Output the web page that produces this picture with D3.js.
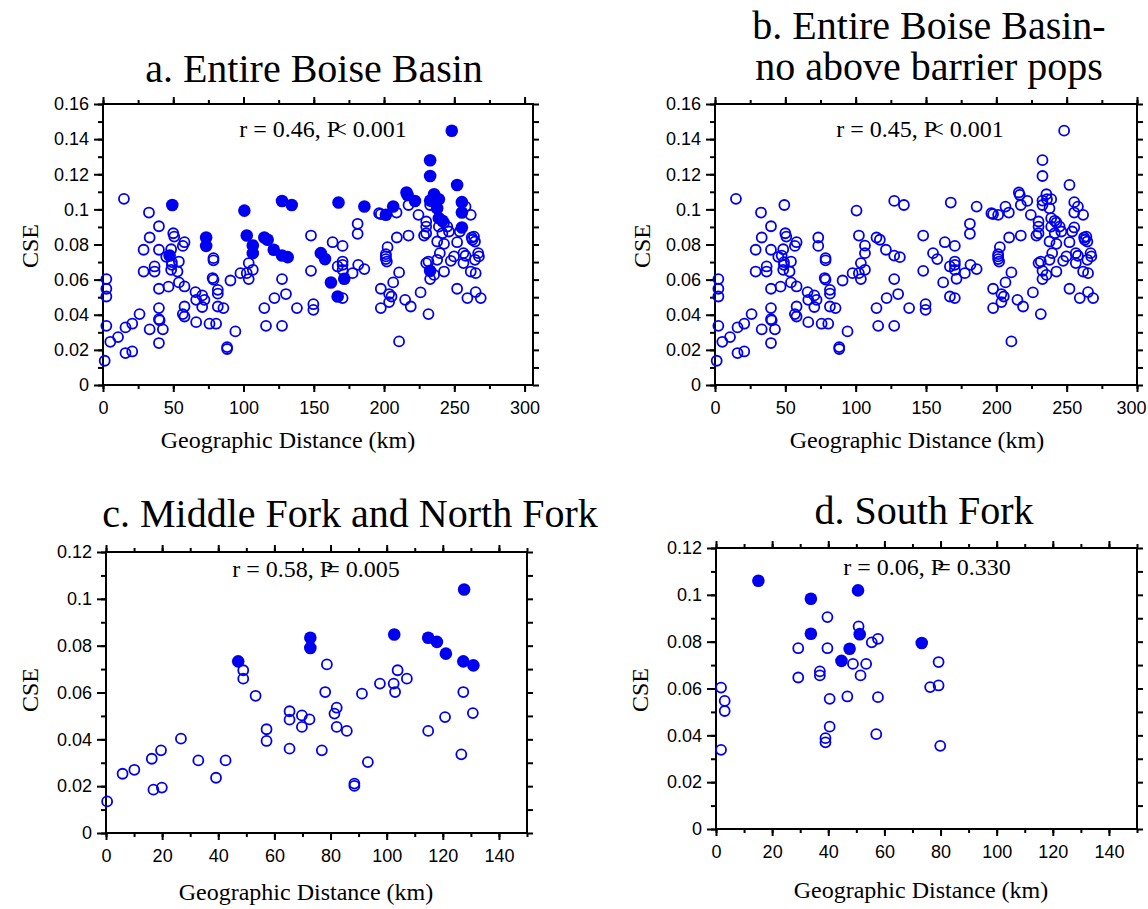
<!DOCTYPE html>
<html>
<head>
<meta charset="utf-8">
<script src="https://cdn.jsdelivr.net/npm/d3@7"></script>
<style>
  body { margin: 0; background: #fff; }
  svg text { fill: #000; }
</style>
</head>
<body>
<div id="container"></div>
<script>
/* CONSTANTS AND GLOBALS */
const width = 1148;
const height = 909;
const blue = "#0000f0";

/* DATA */
// panels a and b share the same pairwise points; filledA marks the solid dots in panel a
const distAB = [1.2, 2.4, 2.4, 2.4, 2.4, 5.2, 10.7, 14.9, 16, 16, 20.8, 20.8, 26, 28.9, 28.9, 32.7, 33.2, 33.2, 36.7, 36.7,
  39.8, 39.8, 39.8, 39.8, 39.8, 40.3, 39.8, 42.6, 45, 46.6, 47.4, 48.5, 48.5, 49.3, 50, 50.7, 49, 49, 53, 54,
  54, 56.8, 58, 58, 56.8, 58, 58, 65.8, 66.3, 66.3, 70.6, 70.6, 72.2, 73.4, 73.4, 75.8, 78.6, 78.6, 78, 78.6,
  80.5, 81.7, 81.7, 81.7, 85.7, 88.3, 88.3, 90.7, 94.2, 97.8, 100.6, 102.3, 102.3, 103.7, 103.7, 106.6, 106.6, 106.6, 114.8, 114.8,
  116, 117.2, 121.5, 122, 127.4, 127.4, 127.4, 127.4, 130.2, 131.4, 134.3, 138, 148, 148, 149.7, 149.7, 155, 158, 162.2, 163.4,
  167.6, 167, 167, 170.5, 170.5, 170.5, 170.5, 170.5, 171.7, 177.6, 181.2, 181.2, 181.6, 186, 186, 196.5, 197.7, 197.7, 197.7, 201.3,
  201.3, 201.3, 201.3, 202, 202.5, 203.6, 203.6, 205.3, 206.5, 206.5, 208.9, 209.1, 210.7, 210.7, 215, 216, 216.7, 217.4, 217.4, 219,
  222, 224.5, 226, 228.5, 230, 230, 230, 230, 231.6, 231.6, 232.8, 232.8, 232.8, 232.8, 232.8, 232.8, 235.6, 235.6, 236, 237.8,
  237.8, 237.8, 239, 239, 239, 239.7, 241.5, 241.5, 242.7, 242.7, 242.7, 245, 246.2, 247.5, 248.2, 249.8, 252, 252, 252, 253.9,
  255.4, 255.4, 255.4, 256.5, 256.5, 258, 258, 259.3, 261.7, 262.4, 262.9, 261.7, 264, 264.7, 264.7, 265.2, 265.2, 267, 267.5, 268.8];
const cseAB = [0.0138, 0.0603, 0.0548, 0.0504, 0.0337, 0.0246, 0.0273, 0.106, 0.0328, 0.0182, 0.0191, 0.0349, 0.0404, 0.077, 0.0646, 0.0982, 0.084, 0.0317, 0.0675, 0.0646,
  0.0904, 0.077, 0.0548, 0.0438, 0.0375, 0.0368, 0.0239, 0.0317, 0.073, 0.056, 0.0737, 0.0773, 0.0656, 0.1025, 0.0864, 0.0845, 0.070, 0.0684, 0.0646, 0.0703,
  0.0584, 0.0792, 0.0813, 0.0561, 0.0404, 0.039, 0.0447, 0.0529, 0.0485, 0.0358, 0.051, 0.0444, 0.0485, 0.084, 0.0792, 0.0349, 0.0722, 0.071, 0.0609, 0.06,
  0.0349, 0.0542, 0.052, 0.0447, 0.0438, 0.0216, 0.0205, 0.0595, 0.0305, 0.0637, 0.0993, 0.0851, 0.0637, 0.0694, 0.0603, 0.0794, 0.0751, 0.0656, 0.084, 0.0438,
  0.0337, 0.0827, 0.077, 0.0495, 0.1048, 0.0737, 0.0603, 0.0337, 0.0518, 0.0728, 0.1025, 0.0438, 0.0851, 0.065, 0.046, 0.0428, 0.0751, 0.0717, 0.0584, 0.0813,
  0.1039, 0.0675, 0.0504, 0.0792, 0.0703, 0.0684, 0.0656, 0.0495, 0.0605, 0.0637, 0.0918, 0.0861, 0.0684, 0.1016, 0.066, 0.0978, 0.0973, 0.0548, 0.0438, 0.0969,
  0.0745, 0.0732, 0.0717, 0.0703, 0.0785, 0.0518, 0.0472, 0.0504, 0.0584, 0.1016, 0.0982, 0.084, 0.0641, 0.0248, 0.0485, 0.1096, 0.1082, 0.1025, 0.0851, 0.0447,
  0.1048, 0.0969, 0.0527, 0.0851, 0.0931, 0.0902, 0.0864, 0.0694, 0.0404, 0.0703, 0.128, 0.119, 0.105, 0.1025, 0.065, 0.0603, 0.1086, 0.0627, 0.1058, 0.1006,
  0.0817, 0.0713, 0.1058, 0.095, 0.0902, 0.0751, 0.0935, 0.0864, 0.0925, 0.0804, 0.0646, 0.0902, 0.0874, 0.0707, 0.1448, 0.0732, 0.1139, 0.0813, 0.0548, 0.0874,
  0.1041, 0.0982, 0.0897, 0.0751, 0.0694, 0.1016, 0.0736, 0.0495, 0.0969, 0.084, 0.0827, 0.0646, 0.0845, 0.0817, 0.0713, 0.0637, 0.0529, 0.0751, 0.0732, 0.0495];
const filledA = [0, 0, 0, 0, 0, 0, 0, 0, 0, 0, 0, 0, 0, 0, 0, 0, 0, 0, 0, 0,
  0, 0, 0, 0, 0, 0, 0, 0, 0, 0, 1, 0, 0, 1, 0, 0, 0, 0, 0, 0,
  0, 0, 0, 0, 0, 0, 0, 0, 0, 0, 0, 0, 0, 1, 1, 0, 0, 0, 0, 0,
  0, 0, 0, 0, 0, 0, 0, 0, 0, 0, 1, 1, 0, 0, 0, 1, 1, 0, 1, 0,
  0, 1, 1, 0, 1, 1, 0, 0, 0, 1, 1, 0, 0, 0, 0, 0, 1, 1, 1, 0,
  1, 0, 1, 0, 0, 0, 0, 0, 1, 0, 0, 0, 0, 1, 0, 0, 0, 0, 0, 1,
  0, 0, 0, 0, 0, 0, 0, 0, 0, 1, 0, 0, 0, 0, 0, 1, 1, 0, 0, 0,
  1, 0, 0, 0, 0, 0, 0, 0, 0, 0, 1, 1, 1, 0, 1, 0, 1, 0, 0, 1,
  0, 0, 1, 1, 0, 0, 1, 0, 0, 0, 0, 0, 0, 0, 1, 0, 1, 0, 0, 0,
  1, 1, 1, 0, 0, 0, 0, 0, 0, 0, 0, 0, 0, 0, 0, 0, 0, 0, 0, 0];
const filledB = filledA.map(() => 0);

// panel c - Middle Fork and North Fork
const distC = [0.4, 5.9, 10.1, 16.3, 19.6, 16.9, 19.9, 26.7, 32.9, 39.2, 42.6, 47.1, 48.9, 48.9, 53.3, 57.2, 57.2, 65.4, 65.4, 65.4,
  69.8, 69.8, 72.5, 72.8, 72.8, 76.9, 78.7, 78.1, 81.4, 82.2, 82.2, 85.8, 88.5, 88.5, 91.2, 93.3, 97.6, 102.5, 103, 102.7,
  103.9, 107.2, 114.8, 114.8, 117.9, 121.1, 120.8, 127.6, 127.3, 127.3, 126.6, 130.9, 130.7];
const cseC = [0.0135, 0.0253, 0.027, 0.0317, 0.0353, 0.0185, 0.0194, 0.0403, 0.031, 0.0236, 0.031, 0.0733, 0.0695, 0.0659, 0.0586, 0.0443, 0.0393, 0.052, 0.0484, 0.036,
  0.0502, 0.0453, 0.0485, 0.0834, 0.079, 0.0353, 0.072, 0.0602, 0.051, 0.0535, 0.0453, 0.0436, 0.0211, 0.0201, 0.0595, 0.0303, 0.0638, 0.0638, 0.0602, 0.0848,
  0.0695, 0.0659, 0.0834, 0.0436, 0.0816, 0.0766, 0.0495, 0.104, 0.0733, 0.0602, 0.0336, 0.0716, 0.0512];
const filledC = [0, 0, 0, 0, 0, 0, 0, 0, 0, 0, 0, 1, 0, 0, 0, 0, 0, 0, 0, 0,
  0, 0, 0, 1, 1, 0, 0, 0, 0, 0, 0, 0, 0, 0, 0, 0, 0, 0, 0, 1,
  0, 0, 1, 0, 1, 1, 0, 1, 1, 0, 0, 1, 0];

// panel d - South Fork
const distD = [1.8, 3.1, 3.1, 1.8, 15.1, 29.3, 29.3, 33.8, 33.8, 37, 37, 39.7, 39.7, 40.5, 40.5, 39, 39, 44.7, 47.6, 46.8,
  48.8, 50.6, 50.8, 51.2, 51.5, 53.5, 55.5, 57.7, 57.7, 57.1, 73.3, 76.3, 79.3, 79.3, 79.9];
const cseD = [0.0604, 0.0547, 0.0504, 0.0338, 0.106, 0.0772, 0.0647, 0.0983, 0.0834, 0.0673, 0.0656, 0.0905, 0.0772, 0.0556, 0.0437, 0.0388, 0.037, 0.0718, 0.077, 0.0566,
  0.0705, 0.1019, 0.0865, 0.0832, 0.0656, 0.0705, 0.0797, 0.0812, 0.0563, 0.0405, 0.0794, 0.0606, 0.0613, 0.0713, 0.0355];
const filledD = [0, 0, 0, 0, 1, 0, 0, 1, 1, 0, 0, 0, 0, 0, 0, 0, 0, 1, 1, 0,
  0, 1, 0, 1, 0, 0, 0, 0, 0, 0, 1, 0, 0, 0, 0];

// ticks
const xTicksAB = [0, 50, 100, 150, 200, 250, 300];
const yTicksAB = [0, 0.02, 0.04, 0.06, 0.08, 0.1, 0.12, 0.14, 0.16];
const xTicksCD = [0, 20, 40, 60, 80, 100, 120, 140];
const yTicksCD = [0, 0.02, 0.04, 0.06, 0.08, 0.1, 0.12];

const panels = [
  { title: ["a. Entire Boise Basin"], titleX: 314, titleY: [82], stat: "r = 0.46, P", op: "<", pval: " 0.001",
    statX: 323, statY: 137, dist: distAB, cse: cseAB, filled: filledA,
    box: { l: 103, r: 533, t: 104, b: 385 }, xDomain: [0, 306], yMax: 0.16, xTicks: xTicksAB, yTicks: yTicksAB,
    xMinor: 25, xLabelX: 288, xLabelY: 448, yLabelX: 38, yLabelY: 246 },
  { title: ["b. Entire Boise Basin-", "no above barrier pops"], titleX: 929, titleY: [39, 80], stat: "r = 0.45, P", op: "<", pval: " 0.001",
    statX: 920, statY: 137, dist: distAB, cse: cseAB, filled: filledB,
    box: { l: 715, r: 1137, t: 104, b: 385 }, xDomain: [0, 300], yMax: 0.16, xTicks: xTicksAB, yTicks: yTicksAB,
    xMinor: 25, xLabelX: 917, xLabelY: 448, yLabelX: 650, yLabelY: 246 },
  { title: ["c. Middle Fork and North Fork"], titleX: 350, titleY: [527], stat: "r = 0.58, P", op: "=", pval: " 0.005",
    statX: 316, statY: 577, dist: distC, cse: cseC, filled: filledC,
    box: { l: 106, r: 527, t: 552, b: 833 }, xDomain: [0, 150], yMax: 0.12, xTicks: xTicksCD, yTicks: yTicksCD,
    xMinor: 10, xLabelX: 306, xLabelY: 900, yLabelX: 38, yLabelY: 690 },
  { title: ["d. South Fork"], titleX: 924, titleY: [524], stat: "r = 0.06, P", op: "=", pval: " 0.330",
    statX: 927, statY: 575, dist: distD, cse: cseD, filled: filledD,
    box: { l: 716, r: 1137, t: 548, b: 829 }, xDomain: [0, 150], yMax: 0.12, xTicks: xTicksCD, yTicks: yTicksCD,
    xMinor: 10, xLabelX: 921, xLabelY: 898, yLabelX: 648, yLabelY: 690 }
];

/* HTML ELEMENTS */
const svg = d3.select("#container")
  .append("svg")
  .attr("width", width)
  .attr("height", height);

const fmt = v => String(+v.toFixed(2));

panels.forEach(p => {
  const { l, r, t, b } = p.box;

  /* SCALES */
  const xScale = d3.scaleLinear().domain(p.xDomain).range([l, r]);
  const yScale = d3.scaleLinear().domain([0, p.yMax]).range([b, t]);

  const xMinorTicks = d3.range(0, p.xDomain[1] + 0.001, p.xMinor);
  const yMinorTicks = d3.range(0, p.yMax + 0.0001, 0.01);

  const g = svg.append("g");

  // ticks on all four sides
  const addAxis = (axis, tx, ty) => {
    const a = g.append("g")
      .attr("transform", `translate(${tx},${ty})`)
      .call(axis);
    a.select(".domain").remove();
    a.selectAll("line").attr("stroke", "#000").attr("stroke-width", 2);
    a.selectAll("text")
      .style("font-family", "'Liberation Sans', Arial, sans-serif")
      .style("font-size", "18px")
      .attr("fill", "#000");
    return a;
  };

  addAxis(d3.axisLeft(yScale).tickValues(yMinorTicks).tickSize(5).tickFormat(""), l, 0);
  addAxis(d3.axisLeft(yScale).tickValues(p.yTicks).tickSize(9).tickPadding(5).tickFormat(fmt), l, 0);
  addAxis(d3.axisRight(yScale).tickValues(yMinorTicks).tickSize(6).tickFormat(""), r, 0);
  addAxis(d3.axisBottom(xScale).tickValues(xMinorTicks).tickSize(4).tickFormat(""), 0, b);
  const xAxisG = addAxis(d3.axisBottom(xScale).tickValues(p.xTicks).tickSize(7).tickPadding(9).tickFormat(d3.format("d")), 0, b);
  // keep the last label inside the window on the right-hand panels
  if (r > 1100) xAxisG.selectAll("text").filter(d => d === 300).attr("dx", -6);
  addAxis(d3.axisTop(xScale).tickValues(xMinorTicks).tickSize(4).tickFormat(""), 0, t);
  addAxis(d3.axisTop(xScale).tickValues(p.xTicks).tickSize(7).tickFormat(""), 0, t);

  // frame
  g.append("rect")
    .attr("x", l).attr("y", t)
    .attr("width", r - l).attr("height", b - t)
    .attr("fill", "none")
    .attr("stroke", "#000")
    .attr("stroke-width", 2);

  // points
  const pts = p.dist.map((d, i) => ({ dist: d, cse: p.cse[i], filled: p.filled[i] }));
  g.selectAll("circle.open")
    .data(pts.filter(d => !d.filled))
    .join("circle")
    .attr("class", "open")
    .attr("cx", d => xScale(d.dist))
    .attr("cy", d => yScale(d.cse))
    .attr("r", 5)
    .attr("fill", "none")
    .attr("stroke", blue)
    .attr("stroke-width", 1.8);
  g.selectAll("circle.solid")
    .data(pts.filter(d => d.filled))
    .join("circle")
    .attr("class", "solid")
    .attr("cx", d => xScale(d.dist))
    .attr("cy", d => yScale(d.cse))
    .attr("r", 6.3)
    .attr("fill", blue);

  // titles and labels
  const serif = "'Liberation Serif', 'Times New Roman', serif";
  p.title.forEach((line, i) => {
    g.append("text")
      .attr("x", p.titleX).attr("y", p.titleY[i])
      .attr("text-anchor", "middle")
      .style("font-family", serif)
      .style("font-size", "40px")
      .text(line);
  });

  const st = g.append("text")
    .attr("x", p.statX).attr("y", p.statY)
    .attr("text-anchor", "middle")
    .style("font-family", serif)
    .style("font-size", "24px");
  st.append("tspan").text(p.stat);
  st.append("tspan").attr("dx", -7).text(p.op);
  st.append("tspan").text(p.pval);

  g.append("text")
    .attr("x", p.xLabelX).attr("y", p.xLabelY)
    .attr("text-anchor", "middle")
    .style("font-family", serif)
    .style("font-size", "24px")
    .text("Geographic Distance (km)");

  g.append("text")
    .attr("transform", `translate(${p.yLabelX},${p.yLabelY}) rotate(-90)`)
    .attr("text-anchor", "middle")
    .style("font-family", serif)
    .style("font-size", "24px")
    .text("CSE");
});
</script>
</body>
</html>
